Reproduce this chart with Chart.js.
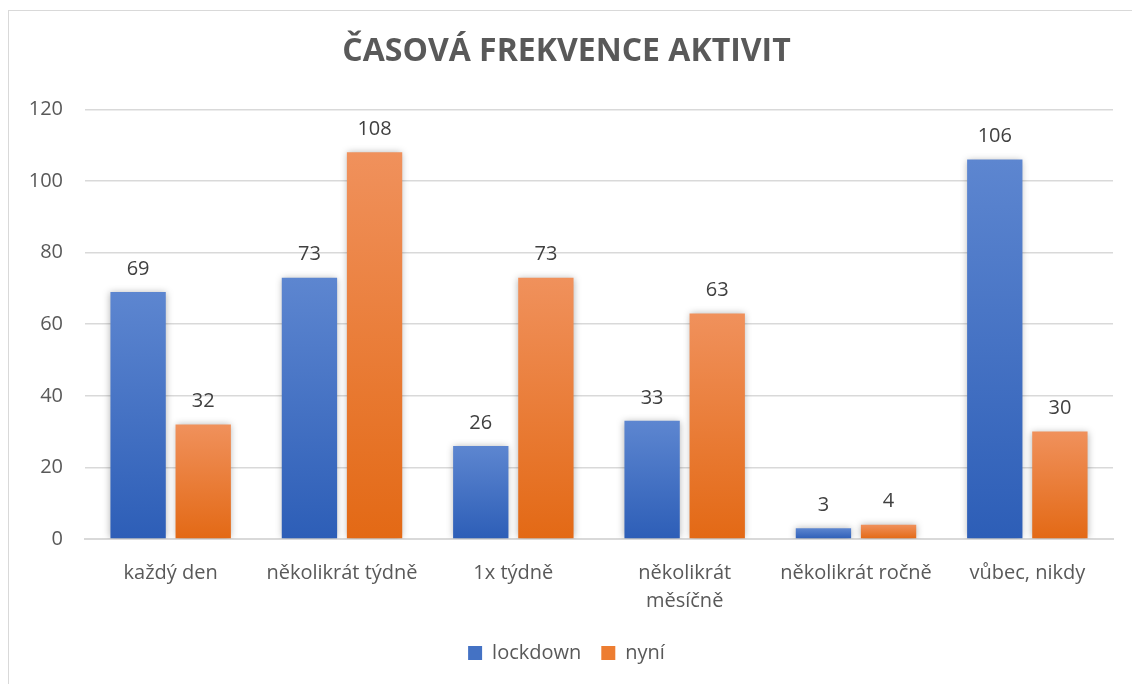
<!DOCTYPE html>
<html>
<head>
<meta charset="utf-8">
<script src="https://cdn.jsdelivr.net/npm/chart.js@4"></script>
<style>
  html, body { margin: 0; padding: 0; background: #fff; overflow: hidden; }
  #frame { position: absolute; left: 8px; top: 10px; width: 1200px; height: 800px; border: 1px solid #d9d9d9; }
  #wrap { position: absolute; left: 0; top: 0; width: 1132px; height: 684px; }
</style>
</head>
<body>
<div id="frame"></div>
<div id="wrap"><canvas id="freqChart" width="1132" height="684"></canvas></div>
<script>
const categories = ['každý den', 'několikrát týdně', '1x týdně', ['několikrát', 'měsíčně'], 'několikrát ročně', 'vůbec, nikdy'];
const lockdown = [69, 73, 26, 33, 3, 106];
const nyni = [32, 108, 73, 63, 4, 30];
const yTicks = [0, 20, 40, 60, 80, 100, 120];

const FONT = "'Open Sans', 'DejaVu Sans', sans-serif";

// svislý přechod pro každý sloupec zvlášť
function barGradient(top, bottom) {
    return (context) => {
        const chart = context.chart;
        const y = chart.scales.y;
        if (!y || context.parsed == null) return bottom;
        const y0 = y.getPixelForValue(context.parsed.y);
        const y1 = y.getPixelForValue(0);
        if (!isFinite(y0) || !isFinite(y1) || y0 === y1) return bottom;
        const g = chart.ctx.createLinearGradient(0, y0, 0, y1);
        g.addColorStop(0, top);
        g.addColorStop(1, bottom);
        return g;
    };
}

const barShadow = {
    id: 'barShadow',
    beforeDatasetsDraw(chart) {
        const ctx = chart.ctx;
        ctx.save();
        ctx.shadowColor = 'rgba(0,0,0,0.3)';
        ctx.shadowBlur = 7;
        ctx.shadowOffsetX = 0;
        ctx.shadowOffsetY = 0;
    },
    afterDatasetsDraw(chart) {
        chart.ctx.restore();
    }
};

const valueLabels = {
    id: 'valueLabels',
    afterDraw(chart) {
        const ctx = chart.ctx;
        ctx.save();
        ctx.font = '20px ' + FONT;
        ctx.fillStyle = '#404040';
        ctx.textAlign = 'center';
        ctx.textBaseline = 'middle';
        chart.data.datasets.forEach((ds, i) => {
            const meta = chart.getDatasetMeta(i);
            meta.data.forEach((bar, j) => {
                ctx.fillText(String(ds.data[j]), bar.x, bar.y - 23);
            });
        });
        ctx.restore();
    }
};

document.addEventListener('DOMContentLoaded', () => {
    const ctx = document.getElementById('freqChart').getContext('2d');
    new Chart(ctx, {
        type: 'bar',
        data: {
            labels: categories,
            datasets: [{
                label: 'lockdown',
                data: lockdown,
                backgroundColor: barGradient('#5d86d0', '#2d5eb7'),
                categoryPercentage: 0.76,
                barPercentage: 0.85
            }, {
                label: 'nyní',
                data: nyni,
                backgroundColor: barGradient('#f0915c', '#e36915'),
                categoryPercentage: 0.76,
                barPercentage: 0.85
            }]
        },
        options: {
            responsive: false,
            animation: false,
            devicePixelRatio: 1,
            layout: { padding: { left: 20, right: 19, top: 33, bottom: 11 } },
            plugins: {
                tooltip: { enabled: false },
                title: {
                    display: true,
                    text: 'ČASOVÁ FREKVENCE AKTIVIT',
                    color: '#595959',
                    font: { family: FONT, size: 32, weight: 'bold' },
                    padding: { top: 0, bottom: 38 }
                },
                legend: {
                    position: 'bottom',
                    labels: {
                        color: '#595959',
                        font: { family: FONT, size: 20 },
                        boxWidth: 14,
                        boxHeight: 14,
                        padding: 20,
                        generateLabels(chart) {
                            const solid = ['#4472c4', '#ed7d31'];
                            return chart.data.datasets.map((ds, i) => ({
                                text: ds.label,
                                fillStyle: solid[i],
                                strokeStyle: solid[i],
                                lineWidth: 0,
                                hidden: false,
                                datasetIndex: i,
                                fontColor: '#595959'
                            }));
                        }
                    }
                }
            },
            scales: {
                x: {
                    afterFit(scale) { scale.height = scale.height - 12; },
                    grid: { display: false, drawTicks: false },
                    border: { display: true, color: '#d9d9d9', width: 2 },
                    ticks: {
                        color: '#595959',
                        font: { family: FONT, size: 20, lineHeight: 1.4 },
                        padding: 20,
                        maxRotation: 0,
                        autoSkip: false
                    }
                },
                y: {
                    min: 0,
                    max: 120,
                    afterFit(scale) { scale.width = 65; },
                    afterBuildTicks(scale) { scale.ticks = yTicks.map(v => ({ value: v })); },
                    grid: { color: '#d9d9d9', lineWidth: 1.5, drawTicks: false },
                    border: { display: false },
                    ticks: {
                        color: '#595959',
                        font: { family: FONT, size: 20 },
                        padding: 22
                    }
                }
            }
        },
        plugins: [barShadow, valueLabels]
    });
});
</script>
</body>
</html>
